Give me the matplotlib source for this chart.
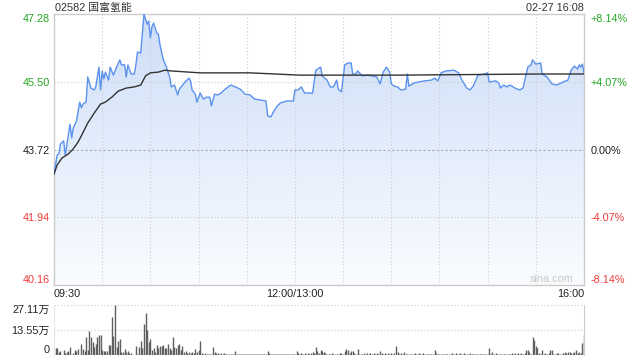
import numpy as np
import matplotlib
matplotlib.use("Agg")
import matplotlib.pyplot as plt
from matplotlib.patches import Polygon
from matplotlib.colors import LinearSegmentedColormap

plt.rcParams['font.family'] = ['Liberation Sans', 'Noto Sans CJK SC', 'DejaVu Sans']

# ===== 数据 =====
stock_title = "02582 国富氢能"
stamp = "02-27 16:08"
price_ticks = [40.16, 41.94, 43.72, 45.50, 47.28]
pct_labels = ["-8.14%", "-4.07%", "0.00%", "+4.07%", "+8.14%"]
time_ticks = [0, 150, 330]
time_labels = ["09:30", "12:00/13:00", "16:00"]
vol_ticks = [0, 13.55, 27.11]
vol_labels = ["0", "13.55万", "27.11万"]

# 分时价格 (交易分钟, 价格)
price_min = [0, 2, 3, 4, 6, 7, 10, 11, 12, 14, 16, 17, 18, 20, 21, 23, 25, 26, 28, 29,
             30, 31, 32, 34, 35, 37, 39, 41, 42, 44, 45, 46, 48, 50, 51, 52, 54, 55, 56, 58,
             59, 60, 61, 62, 64, 65, 66, 68, 70, 72, 73, 75, 77, 78, 81, 84, 85, 86, 88, 89,
             91, 93, 95, 97, 98, 100, 102, 104, 106, 110, 113, 116, 119, 122, 125, 128, 132, 133, 135, 137,
             139, 141, 145, 149, 150, 152, 154, 156, 160, 161, 163, 166, 167, 170, 172, 174, 176, 177, 179, 181,
             183, 185, 186, 188, 189, 192, 195, 198, 201, 203, 205, 207, 209, 210, 212, 214, 216, 219, 220, 221,
             224, 227, 231, 235, 237, 239, 241, 244, 249, 252, 254, 257, 259, 261, 264, 268, 270, 271, 275, 277,
             278, 280, 282, 284, 287, 290, 292, 295, 297, 298, 300, 303, 304, 307, 310, 313, 317, 320, 322, 324,
             326, 327, 328, 329, 330]
price_val = [43.08, 43.58, 43.61, 43.87, 43.95, 43.58, 44.39, 44.03, 44.29, 44.47, 44.97, 44.82, 44.92, 44.97, 45.63, 45.34, 45.29, 45.37, 45.89, 45.29,
             45.79, 45.58, 45.76, 45.55, 45.89, 45.68, 45.89, 46.08, 45.95, 45.95, 45.63, 45.95, 45.71, 45.71, 45.95, 46.29, 46.26, 46.76, 47.28, 47.02,
             47.10, 46.66, 46.95, 47.05, 46.79, 46.76, 46.47, 46.10, 45.89, 45.63, 45.37, 45.42, 45.16, 45.31, 45.47, 45.60, 45.53, 45.29, 45.18, 44.97,
             45.21, 45.05, 45.10, 45.10, 44.87, 45.18, 45.16, 45.21, 45.29, 45.42, 45.37, 45.31, 45.18, 45.16, 45.05, 45.03, 45.00, 44.61, 44.58, 44.74,
             44.87, 44.95, 45.00, 45.00, 45.29, 45.29, 45.37, 45.21, 45.21, 45.21, 45.81, 45.89, 45.66, 45.55, 45.37, 45.37, 45.55, 45.31, 45.24, 45.95,
             46.00, 46.00, 45.71, 45.71, 45.79, 45.66, 45.68, 45.66, 45.63, 45.45, 45.76, 45.89, 45.76, 45.45, 45.39, 45.37, 45.29, 45.31, 45.71, 45.39,
             45.47, 45.50, 45.53, 45.55, 45.60, 45.53, 45.74, 45.79, 45.81, 45.74, 45.55, 45.34, 45.29, 45.39, 45.68, 45.71, 45.74, 45.50, 45.53, 45.47,
             45.34, 45.42, 45.37, 45.42, 45.34, 45.29, 45.34, 45.89, 45.95, 46.08, 45.97, 46.00, 45.71, 45.63, 45.45, 45.42, 45.50, 45.55, 45.81, 45.92,
             45.84, 45.95, 45.89, 45.97, 45.74]

# 均价线
avg_min = [0, 2, 5, 9, 12, 15, 17, 21, 25, 29, 32, 36, 40, 45, 50, 54, 57, 60, 65, 69,
           73, 91, 122, 153, 215, 303, 330]
avg_val = [43.08, 43.32, 43.50, 43.61, 43.74, 43.92, 44.08, 44.42, 44.68, 44.92, 44.97, 45.10, 45.26, 45.34, 45.37, 45.42, 45.66, 45.74, 45.76, 45.81,
           45.79, 45.74, 45.74, 45.68, 45.68, 45.71, 45.71]

# 成交量 (万股)
vol_min_am = [1, 2, 3, 4, 6, 7, 8, 9, 10, 12, 13, 14, 15, 17, 18, 19, 20, 21, 22, 23,
              24, 25, 26, 27, 28, 29, 30, 31, 32, 33, 34, 35, 36, 37, 38, 39, 40, 41, 42, 43,
              44, 45, 46, 47, 48, 51, 52, 53, 54, 55, 56, 57, 58, 59, 60, 61, 62, 63, 64, 65,
              66, 67, 68, 69, 70, 71, 72, 73, 74, 75, 76, 77, 78, 79, 80, 81, 82, 83, 84, 85,
              86, 87, 88, 89, 90, 91, 92, 93, 94, 95, 96, 97, 98, 99, 100, 101, 102, 103, 104, 105,
              106, 107]
vol_val_am = [3.6, 4.0, 1.8, 2.2, 2.5, 0.9, 1.8, 2.2, 4.2, 1.3, 2.7, 2.3, 3.1, 6.0, 3.1, 2.3, 9.6, 2.7, 13.0, 9.6,
              7.2, 4.5, 6.0, 9.6, 10.8, 10.8, 2.7, 2.3, 2.3, 2.3, 5.4, 5.4, 20.8, 10.3, 27.11, 4.5, 7.8, 8.7, 1.8, 1.4,
              3.1, 1.4, 2.2, 0.9, 1.3, 4.9, 0.5, 4.5, 7.6, 4.0, 16.8, 23.0, 13.6, 7.2, 8.7, 2.7, 3.6, 1.8, 5.4, 4.0,
              4.9, 5.1, 5.4, 3.6, 3.6, 6.0, 4.0, 2.7, 9.6, 4.2, 3.6, 5.4, 6.0, 2.7, 4.9, 1.8, 2.3, 0.9, 1.4, 0.9,
              1.8, 1.3, 3.1, 1.4, 2.7, 7.6, 0.9, 0.5, 1.3, 0.5, 0.5, 0.5, 0.5, 4.3, 1.4, 0.9, 0.9, 0.4, 0.9, 0.4,
              0.9, 0.4]
vol_val_rest = [0.5, 0.4, 0.5, 0.4, 0.5, 2.2, 0.5, 0.4, 0.5, 0.4,
                0.5, 0.4, 0.5, 0.5, 0.4, 0.5, 0.4, 0.5, 0.4, 0.5,
                0.4, 0.5, 0.4, 0.5, 0.4, 2.2, 1.3, 0.5, 0.4, 0.5,
                0.4, 0.5, 0.4, 0.5, 0.4, 0.5, 0.4, 0.5, 0.4, 0.5,
                0.5, 0.4, 0.5, 2.2, 0.9, 0.5, 0.9, 0.5, 1.3, 0.5,
                0.9, 0.5, 1.3, 1.8, 0.9, 4.5, 2.3, 0.9, 2.7, 2.2,
                1.8, 0.9, 0.5, 0.4, 0.5, 0.9, 0.5, 0.4, 0.5, 0.5,
                0.9, 0.9, 0.5, 2.2, 3.3, 2.7, 0.9, 2.3, 2.3, 1.3,
                0.5, 3.3, 0.5, 0.4, 0.5, 0.9, 0.5, 0.9, 0.5, 1.3,
                0.5, 0.9, 0.5, 0.9, 0.5, 2.2, 0.9, 0.5, 1.3, 0.5,
                0.9, 0.5, 1.3, 0.5, 0.9, 4.9, 1.4, 0.5, 1.3, 0.5,
                1.4, 0.5,
                0.4, 0.5, 0.4, 0.5, 0.4, 0.9, 0.5, 0.9, 0.5, 0.4,
                0.9, 0.5, 0.4, 0.5, 0.4, 0.5, 0.4, 2.7, 0.9, 0.5,
                0.4, 0.5, 0.4, 0.5, 0.4, 0.5, 0.5, 0.4, 0.9, 0.5,
                0.9, 0.5, 0.4, 0.9, 0.5, 0.9, 0.5, 0.4, 0.5, 0.9,
                0.4, 0.5, 0.4, 0.5, 0.4, 0.5, 0.4, 0.5, 0.4, 0.5,
                0.4, 3.6, 0.5, 1.4, 0.5, 0.9, 0.5, 0.4, 0.5, 0.4,
                0.5, 0.4, 0.5, 0.4, 0.5, 0.9, 0.5, 0.9, 0.5, 0.9,
                0.5, 0.9, 0.5, 1.3, 2.7, 2.7, 1.4, 0.5, 9.9, 8.1,
                4.9, 3.6, 0.9, 0.5, 2.7, 0.5, 0.9, 0.5, 1.3, 2.7,
                2.7, 0.5, 0.4, 0.9, 1.3, 0.5, 0.4, 0.9, 1.4, 0.9,
                1.4, 1.8, 0.9, 0.9, 1.4, 2.7, 0.9, 1.4, 0.9, 6.3,
                10.8]
vol_min = vol_min_am + list(range(108, 108 + len(vol_val_rest)))
vol_val = vol_val_am + vol_val_rest

GREEN = '#22a722'
RED = '#f03a3a'
GRID = '#cccccc'
t_end = time_ticks[-1]

fig = plt.figure(figsize=(6.4, 3.6), dpi=100)
ax = fig.add_axes([54 / 640, 1 - 285 / 360, 530 / 640, 270.7 / 360])
axv = fig.add_axes([54 / 640, 1 - 355 / 360, 530 / 640, 50 / 360])

# ===== 分时图 =====
grad = np.linspace(0, 1, 256).reshape(-1, 1)
cmap = LinearSegmentedColormap.from_list('fill', ['#fafcff', '#cedef8'])
im = ax.imshow(grad, aspect='auto', cmap=cmap, origin='lower',
               extent=[0, t_end, price_ticks[0], price_ticks[-1]], zorder=1)
verts = [(price_min[0], price_ticks[0])] + list(zip(price_min, price_val)) + [(price_min[-1], price_ticks[0])]
poly = Polygon(verts, closed=True, facecolor='none', edgecolor='none')
ax.add_patch(poly)
im.set_clip_path(poly)

for t in range(30, t_end, 30):
    ax.axvline(t, color=GRID, lw=0.8, ls=(0, (1, 2)), zorder=2)
for p in price_ticks[1:-1]:
    if p == price_ticks[2]:
        ax.axhline(p, color='#aaaaaa', lw=0.8, ls=(0, (2, 2)), zorder=2)
    else:
        ax.axhline(p, color=GRID, lw=0.8, ls=(0, (1, 2)), zorder=2)

ax.plot(price_min, price_val, color='#5b92ee', lw=1.0, zorder=4)
ax.plot(avg_min, avg_val, color='#333333', lw=1.0, zorder=5)

ax.set_xlim(0, t_end)
ax.set_ylim(price_ticks[0], price_ticks[-1])
for s in ax.spines.values():
    s.set_color(GRID)
    s.set_linewidth(1)

colors = [RED, RED, '#222222', GREEN, GREEN]
ax.set_yticks(price_ticks)
ax.set_yticklabels([f"{p:.2f}" for p in price_ticks], fontsize=7.8)
ax.tick_params(axis='y', length=0, pad=3)
for lab, c in zip(ax.get_yticklabels(), colors):
    lab.set_color(c)
ax.get_yticklabels()[0].set_verticalalignment('bottom')
ax.get_yticklabels()[-1].set_verticalalignment('top')

axr = ax.twinx()
axr.set_ylim(price_ticks[0], price_ticks[-1])
axr.set_yticks(price_ticks)
axr.set_yticklabels(pct_labels, fontsize=7.8)
axr.tick_params(axis='y', length=0, pad=5)
for lab, c in zip(axr.get_yticklabels(), colors):
    lab.set_color(c)
axr.get_yticklabels()[0].set_verticalalignment('bottom')
axr.get_yticklabels()[-1].set_verticalalignment('top')
for s in axr.spines.values():
    s.set_visible(False)

ax.set_xticks(time_ticks)
ax.set_xticklabels(time_labels, fontsize=7.8, color='#222222')
ax.tick_params(axis='x', length=0, pad=3)
xl = ax.get_xticklabels()
xl[0].set_horizontalalignment('left')
xl[-1].set_horizontalalignment('right')

fig.text(55 / 640, 1 - 8 / 360, stock_title, fontsize=7.8, color='#333333', va='center', ha='left')
fig.text(584 / 640, 1 - 8 / 360, stamp, fontsize=7.8, color='#333333', va='center', ha='right')
fig.text(573 / 640, 1 - 279 / 360, "sina.com", fontsize=7.8, color='#c8c8c8', va='center', ha='right')

# ===== 成交量 =====
axv.vlines(vol_min, 0, vol_val, colors='#5f5f5f', lw=1.0)
axv.set_xlim(0, t_end)
axv.set_ylim(vol_ticks[0], vol_ticks[-1])
for p in vol_ticks[1:]:
    axv.axhline(p, color=GRID, lw=0.8, ls=(0, (1, 2)), zorder=0)
axv.spines['top'].set_visible(False)
axv.spines['bottom'].set_visible(False)
axv.spines['left'].set_color('#e6e6e6')
axv.spines['right'].set_color(GRID)
axv.set_xticks([])
axv.set_yticks(vol_ticks)
axv.set_yticklabels(vol_labels, fontsize=7.8, color='#222222')
axv.tick_params(axis='y', length=0, pad=3)
axv.get_yticklabels()[0].set_verticalalignment('bottom')
axv.get_yticklabels()[-1].set_verticalalignment('top')

fig.savefig("out.png", dpi=100)
